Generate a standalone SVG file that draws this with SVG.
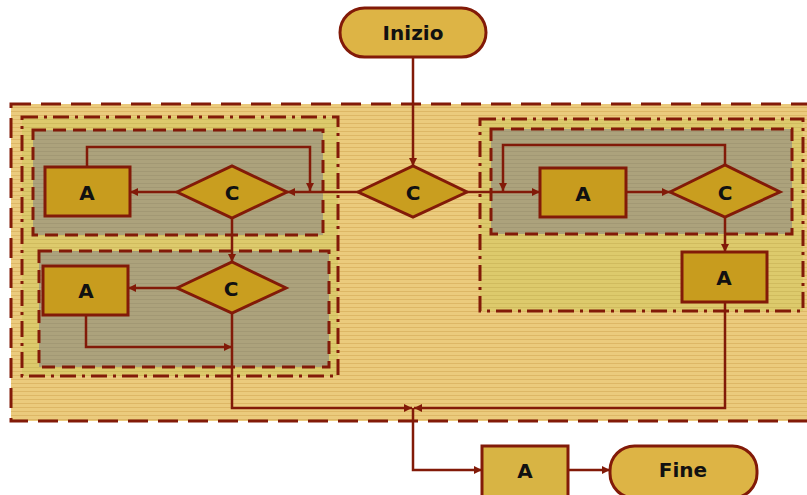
<svg xmlns="http://www.w3.org/2000/svg" width="807" height="495" viewBox="0 0 807 495">
<defs>
<pattern id="pOuter" width="4" height="4" patternUnits="userSpaceOnUse"><rect width="4" height="4" fill="#ebcb7d"/><rect y="3" width="4" height="1" fill="#ddb766"/></pattern>
<pattern id="pMid" width="4" height="4" patternUnits="userSpaceOnUse"><rect width="4" height="4" fill="#ddca6c"/><rect y="3" width="4" height="1" fill="#d0bb5e"/></pattern>
<pattern id="pGray" width="4" height="4" patternUnits="userSpaceOnUse"><rect width="4" height="4" fill="#aca27c"/><rect y="3" width="4" height="1" fill="#a29874"/></pattern>
<marker id="ah" viewBox="0 0 10 10" refX="10" refY="5" markerWidth="9" markerHeight="8" markerUnits="userSpaceOnUse" orient="auto"><path d="M0,0 L10,5 L0,10 z" fill="#821a08"/></marker>
</defs>
<style>
.outer{fill:url(#pOuter);stroke:#821a08;stroke-width:3;stroke-dasharray:20 10}
.mid{fill:url(#pMid);stroke:#821a08;stroke-width:3;stroke-dasharray:16 6 3 6}
.gray{fill:url(#pGray);stroke:#821a08;stroke-width:3;stroke-dasharray:13 7}
.box{fill:#c89c1e;stroke:#821a08;stroke-width:3}
.dia{fill:#c99e1f;stroke:#821a08;stroke-width:3}
.term{fill:#ddb445;stroke:#821a08;stroke-width:3}
.lbl{font-family:"DejaVu Sans",sans-serif;font-weight:bold;font-size:20px;fill:#111;text-anchor:middle;dominant-baseline:central}
.c{fill:none;stroke:#821a08;stroke-width:2.5;marker-end:url(#ah)}
.cn{fill:none;stroke:#821a08;stroke-width:2.5}
</style>
<g id="containers">
<rect class="outer" x="11" y="104" width="810" height="317"/>
<rect class="mid" x="22" y="117" width="316" height="259"/>
<rect class="gray" x="33" y="130" width="290" height="105"/>
<rect class="gray" x="39" y="251" width="290" height="116"/>
<rect class="mid" x="480" y="119" width="323" height="192"/>
<rect class="gray" x="491" y="129" width="301" height="105"/>
</g>
<g id="connectors">
<path class="c" d="M413,57 V166"/>
<path class="c" d="M358,192 H287"/>
<path class="c" d="M177,192 H130"/>
<path class="c" d="M87,167 V147 H310 V191"/>
<path class="c" d="M232,218 V262"/>
<path class="c" d="M177,288 H128"/>
<path class="c" d="M86,315 V347 H232"/>
<path class="c" d="M232,313 V408 H412"/>
<path class="c" d="M467,192 H540"/>
<path class="c" d="M725,165 V145 H503 V191"/>
<path class="c" d="M626,192 H670"/>
<path class="c" d="M725,217 V252"/>
<path class="c" d="M725,302 V408 H414"/>
<path class="c" d="M413,408 V470 H482"/>
<path class="c" d="M568,470 H610"/>
</g>
<g id="inizio"><rect class="term" x="340" y="8" width="146" height="49" rx="24.5"/><text class="lbl" x="413" y="33">Inizio</text></g>
<g id="c-center"><polygon class="dia" points="358,192 413,166 467,192 413,217"/><text class="lbl" x="413" y="193">C</text></g>
<g id="c-tl"><polygon class="dia" points="177,192 232,166 287,192 232,218"/><text class="lbl" x="232" y="193">C</text></g>
<g id="a-tl"><rect class="box" x="45" y="167" width="85" height="49"/><text class="lbl" x="87" y="193">A</text></g>
<g id="c-bl"><polygon class="dia" points="177,288 232,262 286,288 232,313"/><text class="lbl" x="231" y="289">C</text></g>
<g id="a-bl"><rect class="box" x="43" y="266" width="85" height="49"/><text class="lbl" x="86" y="291">A</text></g>
<g id="a-r"><rect class="box" x="540" y="168" width="86" height="49"/><text class="lbl" x="583" y="194">A</text></g>
<g id="c-r"><polygon class="dia" points="670,192 725,165 780,192 725,217"/><text class="lbl" x="725" y="193">C</text></g>
<g id="a-r2"><rect class="box" x="682" y="252" width="85" height="50"/><text class="lbl" x="724" y="278">A</text></g>
<g id="a-bottom"><rect class="box" x="482" y="446" width="86" height="52" style="fill:#d8b444"/><text class="lbl" x="525" y="471">A</text></g>
<g id="fine"><rect class="term" x="610" y="446" width="147" height="52" rx="24.5"/><text class="lbl" x="683" y="470">Fine</text></g>
</svg>
